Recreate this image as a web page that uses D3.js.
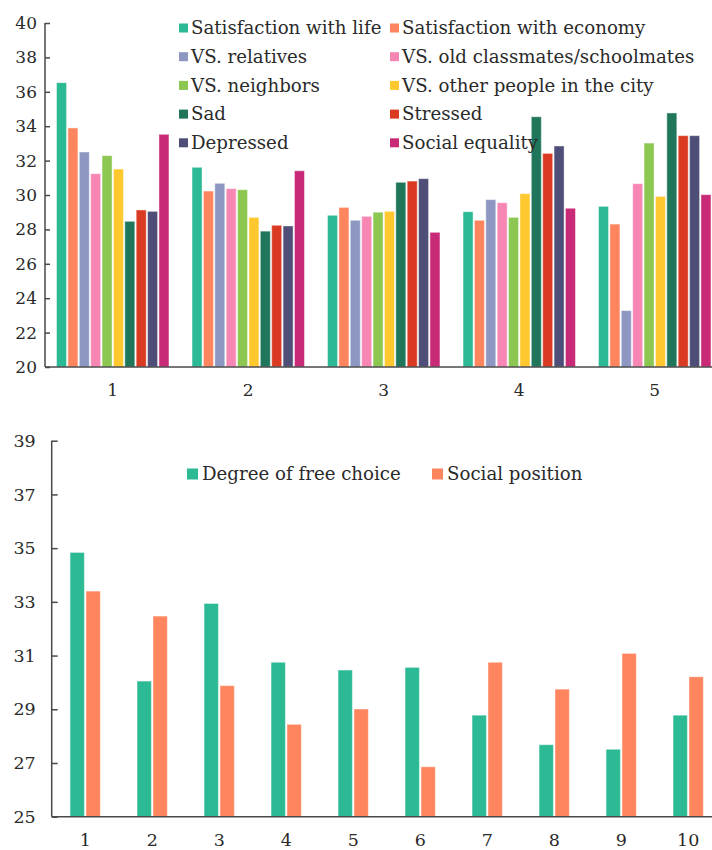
<!DOCTYPE html>
<html>
<head>
<meta charset="utf-8">
<script src="https://cdn.jsdelivr.net/npm/d3@7"></script>
<style>
  html, body { margin: 0; padding: 0; background: #fff; }
  svg { display: block; }
  text { font-family: "DejaVu Serif", "Liberation Serif", serif; fill: #2a2a2a; }
</style>
</head>
<body>
<svg id="chart" width="712" height="850"></svg>
<script>
// ---- Top panel: five groups, ten indicators each ----
const groupsTop = ["1", "2", "3", "4", "5"];
const seriesTop = [
  "Satisfaction with life", "Satisfaction with economy",
  "VS. relatives", "VS. old classmates/schoolmates",
  "VS. neighbors", "VS. other people in the city",
  "Sad", "Stressed",
  "Depressed", "Social equality"
];
const colorsTop = ["#2bba94", "#ff855e", "#8e97c2", "#f786b5", "#8cc751",
                   "#ffc82e", "#1f765a", "#db3a22", "#4e4e78", "#c92a78"];
// one array per indicator, values for groups 1..5
const satLife      = [36.53, 31.61, 28.82, 29.03, 29.34];
const satEconomy   = [33.90, 30.23, 29.28, 28.53, 28.31];
const vsRelatives  = [32.50, 30.68, 28.53, 29.73, 23.28];
const vsClassmates = [31.24, 30.37, 28.76, 29.55, 30.66];
const vsNeighbors  = [32.29, 30.31, 29.00, 28.70, 33.02];
const vsCity       = [31.51, 28.70, 29.05, 30.08, 29.92];
const sad          = [28.47, 27.90, 30.74, 34.55, 34.77];
const stressed     = [29.13, 28.24, 30.81, 32.42, 33.45];
const depressed    = [29.05, 28.20, 30.95, 32.85, 33.45];
const socialEq     = [33.53, 31.41, 27.83, 29.23, 30.02];
const valuesTop = [satLife, satEconomy, vsRelatives, vsClassmates, vsNeighbors,
                   vsCity, sad, stressed, depressed, socialEq];
const ticksTop = [20, 22, 24, 26, 28, 30, 32, 34, 36, 38, 40];

// ---- Bottom panel: ten groups, two indicators ----
const groupsBottom = ["1", "2", "3", "4", "5", "6", "7", "8", "9", "10"];
const seriesBottom = ["Degree of free choice", "Social position"];
const colorsBottom = ["#2bba94", "#ff855e"];
const freeChoice     = [34.84, 30.05, 32.94, 30.75, 30.46, 30.56, 28.78, 27.68, 27.51, 28.78];
const socialPosition = [33.40, 32.47, 29.88, 28.44, 29.01, 26.86, 30.75, 29.75, 31.08, 30.21];
const valuesBottom = [freeChoice, socialPosition];
const ticksBottom = [25, 27, 29, 31, 33, 35, 37, 39];

const svg = d3.select("#chart");
const axisColor = "#4a4a4a";

function drawPanel(cfg) {
  const g = svg.append("g");
  const y = d3.scaleLinear().domain(cfg.yDomain).range([cfg.y0, cfg.y1]);
  const x0 = d3.scaleBand().domain(cfg.groups)
    .range([cfg.xLeft, cfg.xLeft + cfg.step * cfg.groups.length])
    .paddingInner(cfg.padInner).paddingOuter(cfg.padOuter);
  const x1 = d3.scaleBand().domain(d3.range(cfg.series.length))
    .range([0, x0.bandwidth()]).padding(cfg.barPad);

  // bars
  cfg.series.forEach((s, si) => {
    g.append("g").selectAll("rect")
      .data(cfg.values[si].map((v, gi) => ({ v, grp: cfg.groups[gi] })))
      .join("rect")
      .attr("x", d => x0(d.grp) + x1(si))
      .attr("y", d => y(d.v))
      .attr("width", x1.bandwidth())
      .attr("height", d => y(cfg.yDomain[0]) - y(d.v))
      .attr("fill", cfg.colors[si])
      .attr("stroke", "#ffffff")
      .attr("stroke-opacity", 0.45)
      .attr("stroke-width", 1);
  });

  // y axis with inward ticks
  const yAxis = d3.axisRight(y).tickValues(cfg.ticks).tickSize(cfg.tickLen).tickFormat(d3.format("d"));
  const ya = g.append("g").attr("transform", `translate(${cfg.xLeft},0)`).call(yAxis);
  ya.select(".domain").remove();
  ya.selectAll(".tick line").attr("stroke", axisColor).attr("stroke-width", 1.5);
  ya.selectAll(".tick text")
    .attr("x", -cfg.labelGap).attr("text-anchor", "end")
    .attr("font-size", cfg.fontSize).attr("fill", "#2a2a2a")
    .style("font-family", "DejaVu Serif");
  g.append("line")
    .attr("x1", cfg.xLeft).attr("x2", cfg.xLeft)
    .attr("y1", y(cfg.yDomain[0])).attr("y2", y(cfg.yDomain[1]))
    .attr("stroke", axisColor).attr("stroke-width", 1.5);

  // x axis line and labels
  g.append("line")
    .attr("x1", cfg.xLeft).attr("x2", 712)
    .attr("y1", y(cfg.yDomain[0])).attr("y2", y(cfg.yDomain[0]))
    .attr("stroke", axisColor).attr("stroke-width", 1.5);
  g.append("g").selectAll("text")
    .data(cfg.groups)
    .join("text")
    .attr("x", d => x0(d) + x0.bandwidth() / 2)
    .attr("y", y(cfg.yDomain[0]) + cfg.xLabelOffset)
    .attr("text-anchor", "middle")
    .attr("font-size", cfg.fontSize)
    .text(d => d);

  // legend
  const lg = g.append("g");
  cfg.series.forEach((s, si) => {
    const col = si % cfg.legendCols, row = Math.floor(si / cfg.legendCols);
    const lx = cfg.legendX[col], ly = cfg.legendY + row * cfg.legendRowH;
    lg.append("rect")
      .attr("x", lx).attr("y", ly - cfg.swatch / 2)
      .attr("width", cfg.swatch).attr("height", cfg.swatch)
      .attr("fill", cfg.colors[si]);
    lg.append("text")
      .attr("x", lx + cfg.swatch + cfg.swatchGap).attr("y", ly)
      .attr("dy", "0.35em")
      .attr("font-size", cfg.legendFont)
      .text(s);
  });
}

drawPanel({
  groups: groupsTop, series: seriesTop, values: valuesTop, colors: colorsTop,
  yDomain: [20, 40], y0: 367, y1: 23, ticks: ticksTop,
  xLeft: 45, step: 135.5, padInner: 0.15, padOuter: 0.075, barPad: 0.12,
  tickLen: 5, labelGap: 8, fontSize: 17, xLabelOffset: 29,
  legendCols: 2, legendX: [179, 390], legendY: 28, legendRowH: 28.7,
  swatch: 9, swatchGap: 3, legendFont: 18.2
});

drawPanel({
  groups: groupsBottom, series: seriesBottom, values: valuesBottom, colors: colorsBottom,
  yDomain: [25, 39], y0: 816.7, y1: 440.7, ticks: ticksBottom,
  xLeft: 51.7, step: 67, padInner: 0.5, padOuter: 0.25, barPad: 0.1,
  tickLen: 6, labelGap: 16, fontSize: 17.5, xLabelOffset: 29,
  legendCols: 2, legendX: [187, 432], legendY: 474, legendRowH: 0,
  swatch: 11, swatchGap: 4, legendFont: 18.2
});
</script>
</body>
</html>
